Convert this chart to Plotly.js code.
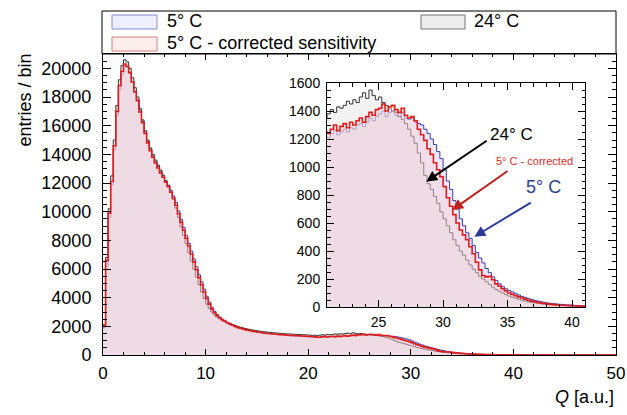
<!DOCTYPE html>
<html>
<head>
<meta charset="utf-8">
<script src="https://cdn.plot.ly/plotly-3.0.1.min.js"></script>
<style>html,body{margin:0;padding:0;background:#fff;}#chart{width:627px;height:415px;}</style>
</head>
<body>
<div id="chart"></div>
<script>
// Histogram bin width in Q [a.u.]; bins start at Q = 0
const BIN_WIDTH = 0.25;

// 5° C (uncorrected) entries per bin
const blue5C = [
  1900, 6200, 9600, 11900, 14300, 16700, 18500, 19600, 20100, 20050, 19650, 19050, 18400, 17800, 17050, 16300, 15550, 14900, 14350, 13900,
  13500, 13150, 12800, 12500, 12150, 11850, 11500, 11100, 10650, 10050, 9450, 8900, 8350, 7800, 7250, 6700, 6150, 5600, 5100, 4600,
  4100, 3700, 3330, 3050, 2820, 2650, 2500, 2390, 2290, 2200, 2120, 2040, 1970, 1910, 1860, 1810, 1760, 1720, 1680, 1640,
  1600, 1570, 1540, 1510, 1490, 1470, 1450, 1430, 1410, 1400, 1380, 1360, 1350, 1330, 1320, 1310, 1300, 1290, 1280, 1270,
  1260, 1250, 1230, 1220, 1210, 1240, 1260, 1230, 1250, 1270, 1250, 1280, 1270, 1300, 1310, 1290, 1320, 1350, 1330, 1360,
  1380, 1400, 1360, 1390, 1400, 1370, 1360, 1390, 1350, 1340, 1350, 1320, 1310, 1300, 1270, 1240, 1200, 1160, 1110, 1060,
  980, 900, 840, 760, 700, 630, 580, 530, 490, 440, 390, 350, 315, 275, 245, 215, 190, 165, 145, 130,
  118, 108, 96, 86, 76, 68, 60, 53, 47, 42, 37, 33, 29, 26, 23, 21, 19, 17, 15, 14,
  12, 11, 9, 8, 7, 6, 5, 4, 4, 3, 3, 2, 2, 2, 1, 1, 1, 1, 0, 0,
  0, 0, 0, 0, 0, 0, 0, 0, 0, 0, 0, 0, 0, 0, 0, 0, 0, 0, 0, 0
];

// 24° C entries per bin
const black24C = [
  2000, 6800, 10200, 12500, 15000, 17400, 19200, 20200, 20600, 20450, 20000, 19350, 18650, 18000, 17200, 16400, 15650, 15000, 14450, 14000,
  13600, 13250, 12900, 12550, 12150, 11800, 11350, 10850, 10250, 9600, 8950, 8350, 7750, 7150, 6550, 6000, 5450, 4900, 4400, 3950,
  3550, 3250, 3000, 2800, 2650, 2520, 2410, 2320, 2240, 2170, 2100, 2040, 1990, 1940, 1890, 1850, 1810, 1770, 1740, 1710,
  1680, 1650, 1630, 1610, 1590, 1570, 1550, 1540, 1520, 1510, 1490, 1480, 1470, 1460, 1450, 1440, 1430, 1420, 1410, 1400,
  1390, 1370, 1380, 1350, 1380, 1410, 1390, 1430, 1420, 1440, 1470, 1450, 1480, 1460, 1500, 1530, 1490, 1550, 1510, 1480,
  1500, 1460, 1440, 1420, 1400, 1390, 1360, 1340, 1310, 1270, 1220, 1170, 1100, 1030, 940, 880, 840, 790, 740, 680,
  630, 580, 530, 480, 440, 400, 370, 335, 300, 270, 245, 220, 200, 180, 160, 142, 125, 112, 100, 88,
  78, 70, 62, 55, 48, 42, 37, 33, 29, 26, 23, 20, 18, 16, 14, 12, 11, 10, 9, 8,
  7, 6, 5, 5, 4, 3, 3, 2, 2, 2, 1, 1, 1, 1, 0, 0, 0, 0, 0, 0,
  0, 0, 0, 0, 0, 0, 0, 0, 0, 0, 0, 0, 0, 0, 0, 0, 0, 0, 0, 0
];

// 5° C - corrected sensitivity entries per bin
const red5Ccorr = [
  2100, 6600, 9900, 12100, 14600, 17000, 18800, 19800, 20300, 20150, 19700, 19050, 18350, 17750, 16950, 16200, 15450, 14800, 14250, 13800,
  13400, 13050, 12700, 12400, 12050, 11750, 11350, 10950, 10450, 9850, 9250, 8700, 8150, 7600, 7050, 6500, 5950, 5400, 4900, 4400,
  3950, 3550, 3200, 2950, 2750, 2600, 2460, 2350, 2250, 2160, 2080, 2000, 1930, 1870, 1820, 1770, 1730, 1690, 1650, 1620,
  1590, 1570, 1540, 1520, 1500, 1480, 1470, 1450, 1440, 1420, 1410, 1390, 1380, 1370, 1360, 1350, 1340, 1330, 1320, 1310,
  1300, 1290, 1270, 1250, 1240, 1270, 1300, 1260, 1290, 1310, 1280, 1320, 1300, 1330, 1350, 1320, 1360, 1390, 1370, 1410,
  1420, 1450, 1400, 1430, 1440, 1410, 1390, 1420, 1370, 1350, 1360, 1330, 1270, 1230, 1190, 1130, 1090, 1030, 980, 930,
  860, 780, 720, 660, 600, 550, 515, 480, 430, 380, 320, 265, 225, 215, 220, 195, 165, 150, 130, 115,
  100, 90, 80, 72, 64, 56, 48, 42, 37, 33, 28, 25, 22, 19, 17, 15, 13, 12, 11, 10,
  9, 7, 6, 5, 4, 4, 3, 3, 2, 2, 2, 1, 1, 1, 1, 1, 0, 0, 0, 0,
  0, 0, 0, 0, 0, 0, 0, 0, 0, 0, 0, 0, 0, 0, 0, 0, 0, 0, 0, 0
];

// Axis ticks
const mainXTicks = [0, 10, 20, 30, 40, 50];
const mainYTicks = [0, 2000, 4000, 6000, 8000, 10000, 12000, 14000, 16000, 18000, 20000];
const insetXTicks = [25, 30, 35, 40];
const insetYTicks = [0, 200, 400, 600, 800, 1000, 1200, 1400, 1600];

// Text
const seriesNames = ['5° C', '24° C', '5° C - corrected sensitivity'];
const insetLabels = ['24° C', '5° C - corrected', '5° C'];

function stepXY(vals) {
  const x = vals.map((_, i) => i * BIN_WIDTH);
  const y = vals.slice();
  x.push(vals.length * BIN_WIDTH);
  y.push(vals[vals.length - 1]);
  return {x, y};
}

const FONT = 'Liberation Sans, Arial, Helvetica, sans-serif';
const styles = [
  {line: '#3a3aa8', fill: 'rgba(222,212,246,0.5)', w: 1},
  {line: '#333333', fill: 'rgba(212,212,212,0.3)', w: 1},
  {line: '#e01c1c', fill: 'rgba(246,212,218,0.5)', w: 1.6}
];
const seriesData = [blue5C, black24C, red5Ccorr];

const traces = [];
[['x', 'y'], ['x2', 'y2']].forEach(([xa, ya]) => {
  seriesData.forEach((vals, k) => {
    const s = stepXY(vals);
    traces.push({
      type: 'scatter', mode: 'lines', x: s.x, y: s.y,
      xaxis: xa, yaxis: ya, name: seriesNames[k],
      line: {shape: 'hv', color: styles[k].line, width: styles[k].w},
      fill: 'tozeroy', fillcolor: styles[k].fill,
      showlegend: false, hoverinfo: 'skip'
    });
  });
});

const axisCommon = {
  showgrid: false, zeroline: false, showline: true, linecolor: '#000', linewidth: 1,
  ticks: 'inside', mirror: 'allticks', tickcolor: '#000', tickwidth: 1,
  tickmode: 'array', automargin: false
};

const PW = 513, PH = 301, L = 103, T = 54;
function px2paperX(px) { return (px - L) / PW; }
function px2paperY(py) { return (T + PH - py) / PH; }

const shapes = [
  {type: 'rect', xref: 'paper', yref: 'paper', x0: px2paperX(102), x1: px2paperX(616), y0: px2paperY(54), y1: px2paperY(11),
   line: {color: '#000', width: 1}, fillcolor: 'rgba(0,0,0,0)'},
  {type: 'rect', xref: 'paper', yref: 'paper', x0: px2paperX(112), x1: px2paperX(157), y0: px2paperY(29), y1: px2paperY(15),
   line: {color: '#8a8ad8', width: 1}, fillcolor: '#eeeefc'},
  {type: 'rect', xref: 'paper', yref: 'paper', x0: px2paperX(112), x1: px2paperX(157), y0: px2paperY(51), y1: px2paperY(37),
   line: {color: '#e07a7a', width: 1}, fillcolor: '#fdeeee'},
  {type: 'rect', xref: 'paper', yref: 'paper', x0: px2paperX(421), x1: px2paperX(465), y0: px2paperY(29), y1: px2paperY(15),
   line: {color: '#777777', width: 1}, fillcolor: '#ececec'}
];

const annotations = [
  {xref: 'paper', yref: 'paper', x: px2paperX(165), y: px2paperY(21.5), xanchor: 'left', yanchor: 'middle', showarrow: false,
   text: seriesNames[0], font: {family: FONT, size: 18, color: '#000'}},
  {xref: 'paper', yref: 'paper', x: px2paperX(165), y: px2paperY(43.5), xanchor: 'left', yanchor: 'middle', showarrow: false,
   text: seriesNames[2], font: {family: FONT, size: 18, color: '#000'}},
  {xref: 'paper', yref: 'paper', x: px2paperX(472), y: px2paperY(21.5), xanchor: 'left', yanchor: 'middle', showarrow: false,
   text: seriesNames[1], font: {family: FONT, size: 18, color: '#000'}},
  {xref: 'paper', yref: 'paper', x: px2paperX(25), y: px2paperY(52), xanchor: 'center', yanchor: 'top', textangle: -90, showarrow: false,
   text: 'entries / bin', font: {family: FONT, size: 18, color: '#000'}},
  {xref: 'paper', yref: 'paper', x: px2paperX(616), y: px2paperY(397), xanchor: 'right', yanchor: 'middle', showarrow: false,
   text: '<i>Q</i> [a.u.]', font: {family: FONT, size: 18, color: '#000'}},
  // inset labels
  {xref: 'x2', yref: 'y2', x: 33.5, y: 1229, xanchor: 'left', yanchor: 'middle', showarrow: false,
   text: insetLabels[0], font: {family: FONT, size: 17, color: '#000'}},
  {xref: 'x2', yref: 'y2', x: 37.06, y: 1045, xanchor: 'center', yanchor: 'middle', showarrow: false,
   text: insetLabels[1], font: {family: FONT, size: 11, color: '#d42a2a'}},
  {xref: 'x2', yref: 'y2', x: 37.76, y: 859, xanchor: 'center', yanchor: 'middle', showarrow: false,
   text: insetLabels[2], font: {family: FONT, size: 18, color: '#2d3c8c'}},
  // arrows
  {xref: 'x2', yref: 'y2', x: 28.69, y: 895, ax: 62, ay: -42, text: '', showarrow: true,
   arrowhead: 2, arrowsize: 1.1, arrowwidth: 2, arrowcolor: '#000'},
  {xref: 'x2', yref: 'y2', x: 30.7, y: 693, ax: 57, ay: -40, text: '', showarrow: true,
   arrowhead: 2, arrowsize: 1.1, arrowwidth: 2, arrowcolor: '#c02020'},
  {xref: 'x2', yref: 'y2', x: 32.42, y: 502, ax: 58, ay: -35, text: '', showarrow: true,
   arrowhead: 2, arrowsize: 1.1, arrowwidth: 2, arrowcolor: '#2a3a9a'}
];

const layout = {
  width: 627, height: 415,
  margin: {l: L, r: 627 - L - PW, t: T, b: 415 - T - PH, pad: 0},
  paper_bgcolor: '#fff', plot_bgcolor: '#fff',
  showlegend: false,
  font: {family: FONT, color: '#000'},
  xaxis: Object.assign({}, axisCommon, {
    range: [0, 50], tickvals: mainXTicks, ticktext: mainXTicks.map(String), ticklen: 6,
    minor: {dtick: 2, tick0: 0, ticks: 'inside', ticklen: 3, tickcolor: '#000'},
    tickfont: {family: FONT, size: 17, color: '#000'}, ticklabelstandoff: 3, anchor: 'y'
  }),
  yaxis: Object.assign({}, axisCommon, {
    range: [0, 21000], tickvals: mainYTicks, ticktext: mainYTicks.map(String), ticklen: 8,
    minor: {dtick: 500, tick0: 0, ticks: 'inside', ticklen: 4, tickcolor: '#000'},
    tickfont: {family: FONT, size: 18, color: '#000'}, ticklabelstandoff: 7, anchor: 'x'
  }),
  xaxis2: Object.assign({}, axisCommon, {
    domain: [px2paperX(327), px2paperX(585)], anchor: 'y2',
    range: [21, 41], tickvals: insetXTicks, ticktext: insetXTicks.map(String), ticklen: 7,
    minor: {dtick: 1, tick0: 0, ticks: 'inside', ticklen: 3.5, tickcolor: '#000'},
    tickfont: {family: FONT, size: 14, color: '#000'}, ticklabelstandoff: 2
  }),
  yaxis2: Object.assign({}, axisCommon, {
    domain: [px2paperY(307), px2paperY(83)], anchor: 'x2',
    range: [0, 1600], tickvals: insetYTicks, ticktext: insetYTicks.map(String), ticklen: 7,
    minor: {dtick: 50, tick0: 0, ticks: 'inside', ticklen: 3.5, tickcolor: '#000'},
    tickfont: {family: FONT, size: 14, color: '#000'}, ticklabelstandoff: 3
  }),
  shapes: shapes,
  annotations: annotations
};

Plotly.newPlot('chart', traces, layout, {displayModeBar: false, staticPlot: true});
</script>
</body>
</html>
